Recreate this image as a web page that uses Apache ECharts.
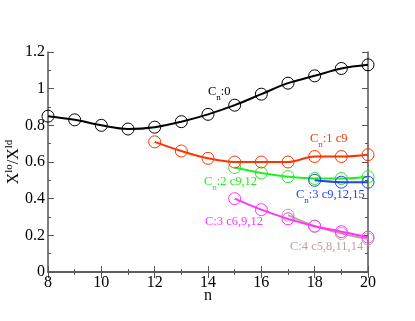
<!DOCTYPE html>
<html>
<head>
<meta charset="utf-8">
<script src="https://cdn.jsdelivr.net/npm/echarts@6/dist/echarts.min.js"></script>
<style>
  html, body { margin: 0; padding: 0; background: #fff; }
  #chart { width: 415px; height: 321px; }
</style>
</head>
<body>
<div id="chart"></div>
<script>
// values
const nCn0 = [8, 9, 10, 11, 12, 13, 14, 15, 16, 17, 18, 19, 20]
const cn0 = [0.85, 0.83, 0.80, 0.78, 0.79, 0.82, 0.86, 0.91, 0.97, 1.03, 1.07, 1.11, 1.13]
const nCn1 = [12, 13, 14, 15, 16, 17, 18, 19, 20]
const cn1 = [0.71, 0.66, 0.62, 0.60, 0.60, 0.60, 0.63, 0.63, 0.64]
const nCn2 = [15, 16, 17, 18, 19, 20]
const cn2 = [0.57, 0.54, 0.52, 0.51, 0.51, 0.52]
const nCn3 = [18, 19, 20]
const cn3 = [0.50, 0.49, 0.49]
const nC3 = [15, 16, 17, 18, 19, 20]
const c3 = [0.40, 0.34, 0.29, 0.25, 0.22, 0.19]
const nC4 = [17, 18, 19, 20]
const c4 = [0.31, 0.25, 0.21, 0.18]

const serif = '"Liberation Serif", "DejaVu Serif", serif'

function pairs(xs, ys) {
    return xs.map((x, i) => [x, ys[i]])
}

function lineSeries(name, xs, ys, color, z) {
    return {
        name: name,
        type: 'line',
        data: pairs(xs, ys),
        smooth: 0.35,
        symbol: 'circle',
        symbolSize: 12,
        z: z,
        lineStyle: { color: color, width: 2 },
        itemStyle: { color: 'rgba(0,0,0,0)', borderColor: color, borderWidth: 1 },
        emphasis: { disabled: true }
    }
}

// label with a subscript "n" after the C
function subLabel(left, top, tail, color) {
    return {
        type: 'text',
        left: left,
        top: top,
        style: {
            text: '{a|C}{s|n}{a|' + tail + '}',
            fill: color,
            rich: {
                a: { fontFamily: serif, fontSize: 12.5, fill: color, lineHeight: 15, verticalAlign: 'top' },
                s: { fontFamily: serif, fontSize: 9, fill: color, lineHeight: 9, verticalAlign: 'top', padding: [8, 0, 0, 0] }
            }
        }
    }
}

function plainLabel(left, top, text, color) {
    return {
        type: 'text',
        left: left,
        top: top,
        style: { text: text, fill: color, fontFamily: serif, fontSize: 12.5 }
    }
}

const axisCommon = {
    type: 'value',
    axisLine: { show: true, lineStyle: { color: '#555', width: 1.5 } },
    axisTick: { show: true, inside: true, length: 6, lineStyle: { color: '#555' } },
    minorTick: { show: true, splitNumber: 2, length: 3, lineStyle: { color: '#555' } },
    splitLine: { show: false }
}

const chart = echarts.init(document.getElementById('chart'))
chart.setOption({
    animation: false,
    grid: { left: 48, right: 47, top: 52, bottom: 49, outerBoundsMode: 'none', containLabel: false },
    xAxis: [
        Object.assign({}, axisCommon, {
            min: 8, max: 20, interval: 2,
            position: 'bottom',
            axisLabel: { color: '#000', fontFamily: serif, fontSize: 16, margin: 3 },
            name: 'n', nameLocation: 'middle', nameGap: 16, nameMoveOverlap: false,
            nameTextStyle: { color: '#000', fontFamily: serif, fontSize: 16 }
        }),
        Object.assign({}, axisCommon, {
            min: 8, max: 20, interval: 2,
            position: 'top',
            axisLabel: { show: false }
        })
    ],
    yAxis: [
        Object.assign({}, axisCommon, {
            min: 0, max: 1.2, interval: 0.2,
            position: 'left',
            axisLabel: { color: '#000', fontFamily: serif, fontSize: 16, margin: 3 },
            name: '{a|X}{s|lo}{a|/X}{s|ld}',
            nameLocation: 'middle', nameRotate: 90, nameGap: 26, nameMoveOverlap: false,
            nameTextStyle: {
                color: '#000',
                rich: {
                    a: { fontFamily: serif, fontSize: 16, color: '#000', lineHeight: 18, verticalAlign: 'bottom' },
                    s: { fontFamily: serif, fontSize: 11, color: '#000', lineHeight: 11, verticalAlign: 'top' }
                }
            }
        }),
        Object.assign({}, axisCommon, {
            min: 0, max: 1.2, interval: 0.2,
            position: 'right',
            axisLabel: { show: false }
        })
    ],
    series: [
        lineSeries('Cn:0', nCn0, cn0, '#000000', 6),
        lineSeries('Cn:1 c9', nCn1, cn1, '#ff3300', 5),
        lineSeries('Cn:2 c9,12', nCn2, cn2, '#22ee22', 4),
        lineSeries('Cn:3 c9,12,15', nCn3, cn3, '#2244ee', 5),
        lineSeries('C:4 c5,8,11,14', nC4, c4, '#c0a0a0', 3),
        lineSeries('C:3 c6,9,12', nC3, c3, '#ff33ff', 4)
    ],
    graphic: [
        subLabel(208, 85, ':0', '#000000'),
        subLabel(310, 132, ':1 c9', '#ff3300'),
        subLabel(204, 175, ':2 c9,12', '#22ee22'),
        subLabel(296, 188, ':3 c9,12,15', '#2244ee'),
        plainLabel(205, 215, 'C:3 c6,9,12', '#ff33ff'),
        plainLabel(290, 240, 'C:4 c5,8,11,14', '#c0a0a0')
    ]
})
</script>
</body>
</html>
